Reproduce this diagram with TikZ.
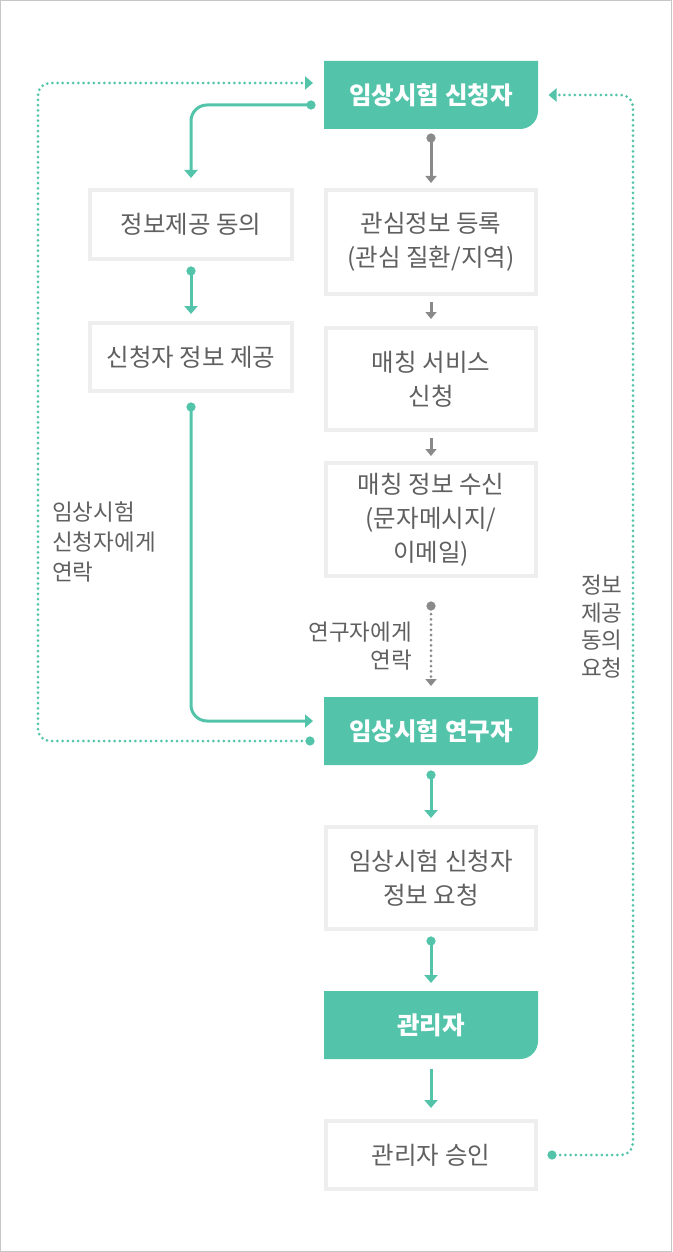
\documentclass[tikz,border=0pt]{standalone}
\usepackage{fontspec}
\setmainfont{Noto Sans CJK KR}
\usetikzlibrary{positioning,arrows.meta}
\definecolor{mint}{HTML}{53C4AA}
\definecolor{arrowgray}{HTML}{8A8A8A}
\definecolor{txtgray}{HTML}{606060}
\definecolor{boxline}{HTML}{EEEEEE}
\definecolor{framegray}{HTML}{C6C6C6}
\tikzstyle{greenbox} = [rectangle, minimum width=214pt, minimum height=68pt, inner sep=0pt, outer sep=0pt, fill=white, text=white, font=\bfseries\fontsize{24.5}{34}\selectfont, path picture={\fill[mint] (path picture bounding box.north west) -- (path picture bounding box.north east) -- ([yshift=18pt]path picture bounding box.south east) arc[start angle=0, end angle=-90, radius=18pt] -- (path picture bounding box.south west) -- cycle;}]
\tikzstyle{whitebox} = [rectangle, draw=boxline, line width=4pt, fill=white, text=txtgray, align=center, inner sep=0pt, outer sep=0pt, minimum width=210pt, font=\fontsize{24.5}{34}\selectfont]
\tikzstyle{note} = [text=txtgray, inner sep=0pt, font=\fontsize{22.5}{28}\selectfont]
\tikzstyle{gconn} = [draw=mint, line width=3pt, rounded corners=16pt, -{Triangle[width=13pt,length=8pt]}]
\tikzstyle{pconn} = [draw=arrowgray, line width=3pt, -{Triangle[width=11pt,length=7pt]}]
\tikzstyle{dotstart} = [{Circle[length=9pt]}-{Triangle[width=13pt,length=8pt]}]
\tikzstyle{dotted line} = [line width=3pt, line cap=round, dash pattern=on 0pt off 5.2pt, rounded corners=12pt]

\begin{document}
\begin{tikzpicture}[x=1pt, y=-1pt]
	\useasboundingbox (0,0) rectangle (672,1252);
	\draw[framegray, line width=1pt] (0.5,0.5) rectangle (671.5,1251.5);

	% main column
	\node (app) [greenbox] at (431,95) {임상시험 신청자};
	\node (interest) [whitebox, minimum height=104pt, below=61pt of app] {관심정보 등록\\(관심 질환/지역)};
	\node (matchreq) [whitebox, minimum height=102pt, below=34pt of interest] {매칭 서비스\\신청};
	\node (matchrecv) [whitebox, minimum height=113pt, below=33pt of matchreq] {매칭 정보 수신\\(문자메시지/\\이메일)};
	\node (res) [greenbox, below=121pt of matchrecv] {임상시험 연구자};
	\node (inforeq) [whitebox, minimum height=102pt, below=62pt of res] {임상시험 신청자\\정보 요청};
	\node (admin) [greenbox, below=62pt of inforeq] {관리자};
	\node (approve) [whitebox, minimum height=68pt, below=62pt of admin] {관리자 승인};

	% left column
	\node (consent) [whitebox, minimum width=202pt, minimum height=69pt] at (191,224.5) {정보제공 동의};
	\node (provide) [whitebox, minimum width=202pt, minimum height=68pt, below=64pt of consent] {신청자 정보 제공};

	% labels
	\node (contactapp) [note, anchor=west, align=left, font=\fontsize{22.5}{30}\selectfont] at (52,542) {임상시험\\신청자에게\\연락};
	\node (contactres) [note, anchor=east, align=right] at (412,646) {연구자에게\\연락};
	\node (askconsent) [note, anchor=west, align=left, font=\fontsize{22.5}{27.7}\selectfont] at (581,626.5) {정보\\제공\\동의\\요청};

	\coordinate (leftrail) at (38,400);
	\coordinate (rightrail) at (633,600);

	% connectors
	\draw [gconn, dotstart] ([xshift=-8.5pt,yshift=-10pt]app.west) -| ([yshift=12pt]consent.north);
	\draw [pconn, {Circle[length=9pt]}-{Triangle[width=11pt,length=7pt]}] ([yshift=-4.5pt]app.south) -- ([yshift=7pt]interest.north);
	\draw [gconn, dotstart] ([yshift=-7.5pt]consent.south) -- ([yshift=9pt]provide.north);
	\draw [gconn, dotstart] ([yshift=-11.5pt]provide.south) |- ([xshift=-11pt,yshift=10pt]res.west);
	\draw [pconn] ([yshift=-8pt]interest.south) -- ([yshift=9pt]matchreq.north);
	\draw [pconn] ([yshift=-8pt]matchreq.south) -- ([yshift=7pt]matchrecv.north);
	\draw [pconn, dotted line, {Circle[length=9pt]}-{Triangle[width=11pt,length=7pt]}] ([yshift=-25.5pt]matchrecv.south) -- ([yshift=11pt]res.north);
	\draw [draw=mint, dotted line, dotstart] ([xshift=-9.5pt,yshift=-10pt]res.west) -| (leftrail) |- ([xshift=-11pt,yshift=12pt]app.west);
	\draw [draw=mint, dotted line, dotstart] ([xshift=11.5pt]approve.east) -| (rightrail) |- ([xshift=10.5pt]app.east);
	\draw [gconn, dotstart] ([yshift=-5.5pt]res.south) -- ([yshift=9pt]inforeq.north);
	\draw [gconn, dotstart] ([yshift=-7.5pt]inforeq.south) -- ([yshift=8pt]admin.north);
	\draw [gconn] ([yshift=-10pt]admin.south) -- ([yshift=13pt]approve.north);
\end{tikzpicture}
\end{document}
